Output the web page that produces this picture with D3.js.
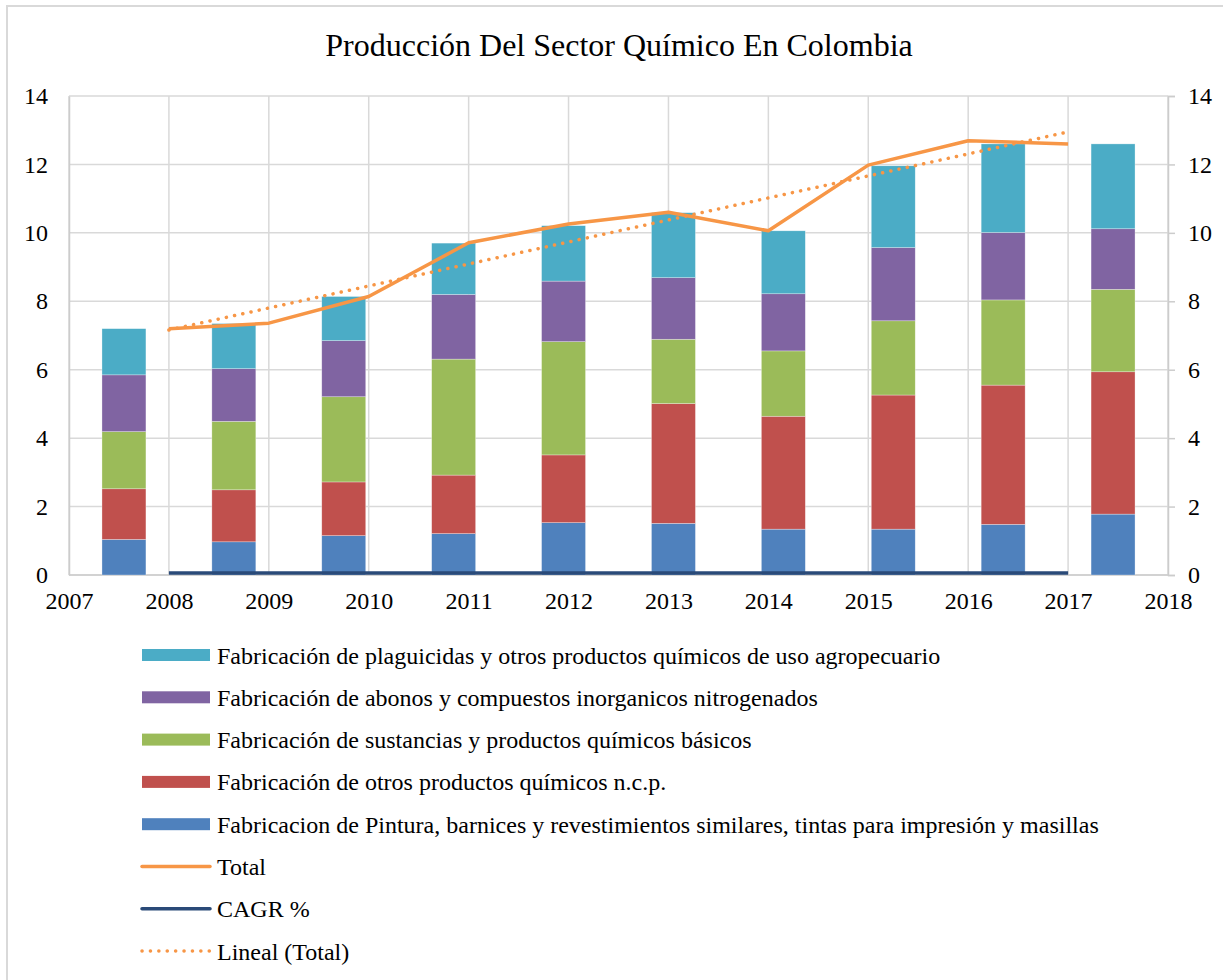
<!DOCTYPE html>
<html>
<head>
<meta charset="utf-8">
<script src="https://cdn.jsdelivr.net/npm/d3@7/dist/d3.min.js"></script>
<style>
  body { margin: 0; background: #fff; }
  svg text { font-family: "Liberation Serif", "Times New Roman", serif; fill: #000; }
</style>
</head>
<body>
<svg id="chart" width="1223" height="980"></svg>
<script>
// data
const years = [2008, 2009, 2010, 2011, 2012, 2013, 2014, 2015, 2016, 2017];
const pintura     = [1.04, 0.97, 1.15, 1.21, 1.53, 1.51, 1.34, 1.34, 1.48, 1.78];
const otros       = [1.48, 1.52, 1.57, 1.71, 1.98, 3.50, 3.30, 3.92, 4.07, 4.16];
const sustancias  = [1.67, 2.00, 2.49, 3.39, 3.31, 1.88, 1.91, 2.17, 2.49, 2.41];
const abonos      = [1.66, 1.54, 1.64, 1.89, 1.77, 1.80, 1.67, 2.14, 1.97, 1.77];
const plaguicidas = [1.35, 1.32, 1.29, 1.50, 1.62, 1.90, 1.84, 2.39, 2.59, 2.48];
const total = [7.20, 7.36, 8.14, 9.71, 10.26, 10.60, 10.06, 11.98, 12.69, 12.60];
const cagr  = [0.06, 0.06, 0.06, 0.06, 0.06, 0.06, 0.06, 0.06, 0.06, 0.06];
const trendEnds = [7.16, 12.95]; // Lineal (Total) at 2008 and 2017
const axisYears = [2007, 2008, 2009, 2010, 2011, 2012, 2013, 2014, 2015, 2016, 2017, 2018];
const yTicks = [0, 2, 4, 6, 8, 10, 12, 14];

const seriesNames = [
  'Fabricacion de Pintura, barnices y revestimientos similares, tintas para impresión y masillas',
  'Fabricación de otros productos químicos n.c.p.',
  'Fabricación de sustancias y productos químicos básicos',
  'Fabricación de abonos y compuestos inorganicos nitrogenados',
  'Fabricación de plaguicidas y otros productos químicos de uso agropecuario'
];
const seriesColors = ['#4f81bd', '#c0504d', '#9bbb59', '#8064a2', '#4bacc6'];
const seriesValues = [pintura, otros, sustancias, abonos, plaguicidas];

const svg = d3.select('#chart');
const plotLeft = 69, plotRight = 1168, plotTop = 96, plotBottom = 575;

// chart border
svg.append('rect')
  .attr('x', 7).attr('y', 6).attr('width', 1240).attr('height', 1000)
  .attr('fill', 'none').attr('stroke', '#d9d9d9').attr('stroke-width', 2);

// title
svg.append('text')
  .attr('x', 619).attr('y', 56)
  .attr('text-anchor', 'middle')
  .style('font-size', '32px')
  .text('Producción Del Sector Químico En Colombia');

// scales
const xBand = d3.scaleBand().domain(years).range([plotLeft, plotRight]).paddingInner(0.6).paddingOuter(0.3);
const xLine = d3.scaleLinear().domain([2007, 2018]).range([plotLeft, plotRight]);
const y = d3.scaleLinear().domain([0, 14]).range([plotBottom, plotTop]);

// grid
const grid = svg.append('g');
grid.selectAll('line.h').data(yTicks).enter().append('line')
  .attr('x1', plotLeft).attr('x2', plotRight)
  .attr('y1', d => y(d)).attr('y2', d => y(d))
  .attr('stroke', '#d9d9d9').attr('stroke-width', 1.5);
grid.selectAll('line.v').data(axisYears).enter().append('line')
  .attr('x1', d => xLine(d)).attr('x2', d => xLine(d))
  .attr('y1', plotTop).attr('y2', plotBottom)
  .attr('stroke', '#d9d9d9').attr('stroke-width', 1.5);

// axes
const yLeft = svg.append('g')
  .attr('transform', `translate(${plotLeft},0)`)
  .call(d3.axisLeft(y).tickValues(yTicks).tickSize(0).tickPadding(21));
const yRight = svg.append('g')
  .attr('transform', `translate(${plotRight},0)`)
  .call(d3.axisRight(y).tickValues(yTicks).tickSize(7).tickPadding(13));
const xAxis = svg.append('g')
  .attr('transform', `translate(0,${plotBottom})`)
  .call(d3.axisBottom(xLine).tickValues(axisYears).tickFormat(d3.format('d')).tickSize(0).tickPadding(17));

[yLeft, yRight, xAxis].forEach(g => {
  g.select('.domain').attr('stroke', '#cccccc').attr('stroke-width', 1.5);
  g.selectAll('.tick line').attr('stroke', '#cccccc').attr('stroke-width', 1.5);
  g.selectAll('text').style('font-size', '24px').attr('fill', '#000')
    .style('font-family', '"Liberation Serif", "Times New Roman", serif');
});
xAxis.select('.domain').attr('d', `M${plotLeft},0H${plotRight}`);

// stacked bars
const rows = years.map((yr, i) => {
  const r = { year: yr };
  seriesValues.forEach((s, k) => { r['s' + k] = s[i]; });
  return r;
});
const keys = seriesValues.map((s, k) => 's' + k);
const stacked = d3.stack().keys(keys)(rows);

svg.append('g').selectAll('g').data(stacked).enter().append('g')
  .attr('fill', (d, k) => seriesColors[k])
  .selectAll('rect').data(d => d).enter().append('rect')
  .attr('x', d => xBand(d.data.year))
  .attr('width', xBand.bandwidth())
  .attr('y', d => y(d[1]))
  .attr('height', d => y(d[0]) - y(d[1]))
  .attr('stroke', 'rgba(255,255,255,0.5)').attr('stroke-width', 0.6);

// lines
const line = d3.line().x(d => xLine(d[0])).y(d => y(d[1]));

svg.append('path')
  .datum(years.map((yr, i) => [yr, cagr[i]]))
  .attr('d', line).attr('fill', 'none')
  .attr('stroke', '#2a4a78').attr('stroke-width', 3.5);

svg.append('path')
  .datum(years.map((yr, i) => [yr, total[i]]))
  .attr('d', line).attr('fill', 'none')
  .attr('stroke', '#f79646').attr('stroke-width', 3.5).attr('stroke-linejoin', 'round');

svg.append('path')
  .datum([[years[0], trendEnds[0]], [years[years.length - 1], trendEnds[1]]])
  .attr('d', line).attr('fill', 'none')
  .attr('stroke', '#f79646').attr('stroke-width', 3.5)
  .attr('stroke-linecap', 'round').attr('stroke-dasharray', '0.1 8.3');

// legend
const legendItems = [
  { name: seriesNames[4], color: seriesColors[4], type: 'rect' },
  { name: seriesNames[3], color: seriesColors[3], type: 'rect' },
  { name: seriesNames[2], color: seriesColors[2], type: 'rect' },
  { name: seriesNames[1], color: seriesColors[1], type: 'rect' },
  { name: seriesNames[0], color: seriesColors[0], type: 'rect' },
  { name: 'Total', color: '#f79646', type: 'line' },
  { name: 'CAGR %', color: '#2a4a78', type: 'line' },
  { name: 'Lineal (Total)', color: '#f79646', type: 'dot' }
];
const lg = svg.append('g').selectAll('g').data(legendItems).enter().append('g')
  .attr('transform', (d, i) => `translate(142,${655 + i * 42.3})`);
lg.filter(d => d.type === 'rect').append('rect')
  .attr('x', 0).attr('y', -6).attr('width', 68).attr('height', 12)
  .attr('fill', d => d.color);
lg.filter(d => d.type !== 'rect').append('line')
  .attr('x1', 0).attr('x2', 68).attr('y1', 0).attr('y2', 0)
  .attr('stroke', d => d.color).attr('stroke-width', 3.5)
  .attr('stroke-linecap', 'round')
  .attr('stroke-dasharray', d => d.type === 'dot' ? '0.1 8.3' : null);
lg.append('text')
  .attr('x', 75).attr('y', 8.5)
  .style('font-size', '24px')
  .text(d => d.name);
</script>
</body>
</html>
